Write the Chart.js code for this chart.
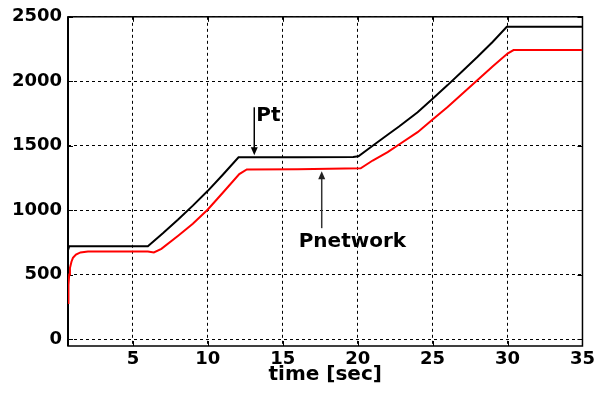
<!DOCTYPE html>
<html>
<head>
<meta charset="utf-8">
<script src="https://cdn.jsdelivr.net/npm/chart.js@4/dist/chart.umd.min.js"></script>
<style>
  html, body { margin: 0; padding: 0; background: #fff; }
  #wrap { width: 598px; height: 396px; }
</style>
</head>
<body>
<div id="wrap"><canvas id="c" width="598" height="396"></canvas></div>
<script>
// ---- data ----
const ptTime = [0.67, 0.75, 6.0, 7.0, 8.0, 9.0, 10.0, 11.0, 12.05, 16.0, 19.7, 20.05, 21.0, 22.0, 22.76, 24.0, 25.0, 26.0, 27.0, 28.0, 29.0, 29.95, 35.0];
const ptValues = [690, 720, 720, 820, 925, 1035, 1150, 1275, 1410, 1410, 1412, 1418, 1500, 1585, 1649, 1760, 1865, 1970, 2080, 2190, 2305, 2423, 2423];

const pnetTime = [0.67, 0.7, 0.75, 0.8, 0.9, 1.0, 1.2, 1.5, 2.0, 6.0, 6.4, 6.9, 8.0, 9.0, 10.0, 11.0, 12.1, 12.6, 16.0, 20.2, 21.0, 22.0, 22.76, 24.0, 25.0, 26.0, 27.0, 28.0, 29.0, 30.0, 30.4, 35.0];
const pnetValues = [280, 420, 500, 550, 600, 630, 655, 672, 680, 680, 672, 700, 800, 895, 1005, 1135, 1280, 1316, 1318, 1325, 1385, 1450, 1509, 1605, 1703, 1800, 1905, 2010, 2115, 2215, 2242, 2242];

const xTicks = [5, 10, 15, 20, 25, 30, 35];
const yTicks = [0, 500, 1000, 1500, 2000, 2500];

const annoLabels = ['Pt', 'Pnetwork'];
const annoTime = [13.1, 17.6];
const annoValue = [1410, 1318];

const FONT = '"DejaVu Sans", "Liberation Sans", Arial, sans-serif';

const toPts = (xs, ys) => xs.map((x, i) => ({ x: x, y: ys[i] }));

const framePlugin = {
  id: 'frame',
  beforeDatasetsDraw(chart) {
    const { ctx, chartArea: a } = chart;
    const xs = chart.scales.x, ys = chart.scales.y;
    ctx.save();
    ctx.strokeStyle = '#000';
    ctx.lineWidth = 1.5;
    ctx.strokeRect(a.left, a.top, a.right - a.left, a.bottom - a.top);
    ctx.lineWidth = 2;
    ctx.beginPath();
    ctx.moveTo(a.left, a.top); ctx.lineTo(a.left, a.bottom);
    ctx.stroke();
    // inner tick marks
    ctx.lineWidth = 1;
    ctx.beginPath();
    xTicks.forEach(v => {
      const px = Math.round(xs.getPixelForValue(v)) + 0.5;
      ctx.moveTo(px, a.bottom); ctx.lineTo(px, a.bottom - 5);
      ctx.moveTo(px, a.top); ctx.lineTo(px, a.top + 5);
    });
    yTicks.forEach(v => {
      const py = Math.round(ys.getPixelForValue(v)) + 0.5;
      ctx.moveTo(a.left, py); ctx.lineTo(a.left + 5, py);
      ctx.moveTo(a.right, py); ctx.lineTo(a.right - 5, py);
    });
    ctx.stroke();
    ctx.restore();
  }
};

const annoPlugin = {
  id: 'anno',
  afterDatasetsDraw(chart) {
    const { ctx } = chart;
    const xs = chart.scales.x, ys = chart.scales.y;
    ctx.save();
    ctx.font = 'bold 20px ' + FONT;
    ctx.textBaseline = 'alphabetic';
    ctx.textAlign = 'left';
    // Pt: arrow pointing down onto the black line
    {
      const px = xs.getPixelForValue(annoTime[0]);
      const tip = ys.getPixelForValue(annoValue[0]) - 2;
      ctx.strokeStyle = '#000'; ctx.fillStyle = '#000'; ctx.lineWidth = 1.5;
      ctx.beginPath(); ctx.moveTo(px, tip - 48); ctx.lineTo(px, tip - 6); ctx.stroke();
      ctx.beginPath(); ctx.moveTo(px - 3.5, tip - 8); ctx.lineTo(px + 3.5, tip - 8); ctx.lineTo(px, tip); ctx.closePath(); ctx.fill();
      ctx.fillText(annoLabels[0], px + 2, tip - 34);
    }
    // Pnetwork: arrow pointing up onto the red line
    {
      const px = xs.getPixelForValue(annoTime[1]);
      const tip = ys.getPixelForValue(annoValue[1]) + 2;
      ctx.strokeStyle = '#333'; ctx.fillStyle = '#000'; ctx.lineWidth = 1.5;
      ctx.beginPath(); ctx.moveTo(px, tip + 6); ctx.lineTo(px, tip + 57); ctx.stroke();
      ctx.fillStyle = '#222';
      ctx.beginPath(); ctx.moveTo(px - 3.5, tip + 8); ctx.lineTo(px + 3.5, tip + 8); ctx.lineTo(px, tip); ctx.closePath(); ctx.fill();
      ctx.fillStyle = '#000';
      ctx.fillText(annoLabels[1], px - 23, tip + 76);
    }
    ctx.restore();
  }
};

new Chart(document.getElementById('c'), {
  type: 'line',
  data: {
    datasets: [
      { label: 'Pt', data: toPts(ptTime, ptValues), borderColor: '#000', borderWidth: 2, pointRadius: 0, tension: 0, fill: false },
      { label: 'Pnetwork', data: toPts(pnetTime, pnetValues), borderColor: '#ff0000', borderWidth: 2, pointRadius: 0, tension: 0, fill: false }
    ]
  },
  options: {
    responsive: false,
    animation: false,
    devicePixelRatio: 1,
    layout: { padding: { left: 0, right: 14, top: 16, bottom: 0 } },
    plugins: { legend: { display: false }, tooltip: { enabled: false } },
    scales: {
      x: {
        type: 'linear',
        min: 0.67, max: 35,
        afterBuildTicks: s => { s.ticks = xTicks.map(v => ({ value: v })); },
        afterFit: s => { s.height = 50; },
        grid: { color: '#000', lineWidth: 1, drawTicks: false },
        border: { display: false, dash: [3, 3] },
        ticks: { color: '#000', font: { family: FONT, size: 18, weight: 'bold' }, padding: 3, maxRotation: 0, autoSkip: false, callback: v => String(v) },
        title: { display: true, text: 'time [sec]', color: '#000', font: { family: FONT, size: 20, weight: 'bold' }, padding: { top: 0, bottom: 9 } }
      },
      y: {
        type: 'linear',
        min: -54, max: 2500,
        afterBuildTicks: s => { s.ticks = yTicks.map(v => ({ value: v })); },
        afterFit: s => { s.width = 68; },
        grid: { color: '#000', lineWidth: 1, drawTicks: false },
        border: { display: false, dash: [3, 3] },
        ticks: { color: '#000', font: { family: FONT, size: 18, weight: 'bold' }, padding: 6, callback: v => String(v) }
      }
    }
  },
  plugins: [framePlugin, annoPlugin]
});
</script>
</body>
</html>
